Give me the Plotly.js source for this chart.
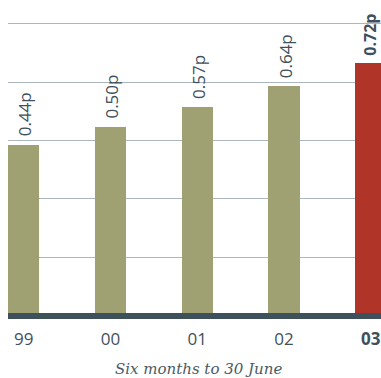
<!DOCTYPE html>
<html>
<head>
<meta charset="utf-8">
<script src="https://cdn.plot.ly/plotly-3.0.1.min.js"></script>
<style>
  html, body { margin: 0; padding: 0; background: #ffffff; }
  #chart { width: 381px; height: 378px; }
</style>
</head>
<body>
<div id="chart"></div>
<script>
// Data
const periods = ['99', '00', '01', '02', '03'];
const dividends = [0.44, 0.50, 0.57, 0.64, 0.72];
const valueLabels = ['0.44p', '0.50p', '0.57p', '0.64p', '0.72p'];
const highlight = [false, false, false, false, true];
const caption = 'Six months to 30 June';

// Styling
const OLIVE = '#9fa173';
const RED = '#b03428';
const INK = '#3e505b';
const AXIS_FLOOR = -0.138;   // the original chart's value axis does not start at zero
const AXIS_TOP = 0.936;

const colors = highlight.map(h => h ? RED : OLIVE);
const tickText = periods.map((p, i) => highlight[i] ? '<b>' + p + '</b>' : p);

const trace = {
  type: 'bar',
  x: periods,
  y: dividends.map(v => v - AXIS_FLOOR),
  base: AXIS_FLOOR,
  width: 0.363,
  marker: { color: colors, line: { width: 0 } },
  hoverinfo: 'skip'
};

// category axis: annotation positions given as category indices
const annotations = dividends.map((v, i) => ({
  x: i,
  y: v,
  xref: 'x',
  yref: 'y',
  text: highlight[i] ? '<b>' + valueLabels[i] + '</b>' : valueLabels[i],
  textangle: -90,
  showarrow: false,
  xanchor: 'center',
  yanchor: 'bottom',
  xshift: highlight[i] ? -1 : 1,
  yshift: highlight[i] ? 6 : 7,
  borderpad: 0,
  font: { family: 'Open Sans, sans-serif', size: highlight[i] ? 16 : 17, color: INK }
}));

annotations.push({
  xref: 'paper',
  yref: 'paper',
  x: 0.51,
  y: -0.178,
  yanchor: 'middle',
  xanchor: 'center',
  showarrow: false,
  text: '<i>' + caption + '</i>',
  font: { family: 'DejaVu Serif, serif', size: 15, color: '#4a5a64' }
});

const layout = {
  width: 381,
  height: 378,
  margin: { l: 8, r: 0, t: 0, b: 65 },
  paper_bgcolor: '#ffffff',
  plot_bgcolor: '#ffffff',
  showlegend: false,
  bargap: 0,
  xaxis: {
    type: 'category',
    range: [-0.1815, 4.1182],
    showgrid: false,
    zeroline: false,
    showline: true,
    linecolor: INK,
    linewidth: 6,
    ticks: '',
    tickvals: periods,
    ticktext: tickText,
    tickfont: { family: 'Open Sans, sans-serif', size: 17, color: INK },
    ticklabelstandoff: 6,
    fixedrange: true
  },
  yaxis: {
    range: [AXIS_FLOOR, AXIS_TOP],
    showgrid: true,
    gridcolor: '#aab6c0',
    gridwidth: 1,
    tick0: 0.054,
    dtick: 0.2,
    zeroline: false,
    showline: false,
    showticklabels: false,
    ticks: '',
    fixedrange: true
  },
  annotations: annotations
};

Plotly.newPlot('chart', [trace], layout, { staticPlot: true, displayModeBar: false });
</script>
</body>
</html>
